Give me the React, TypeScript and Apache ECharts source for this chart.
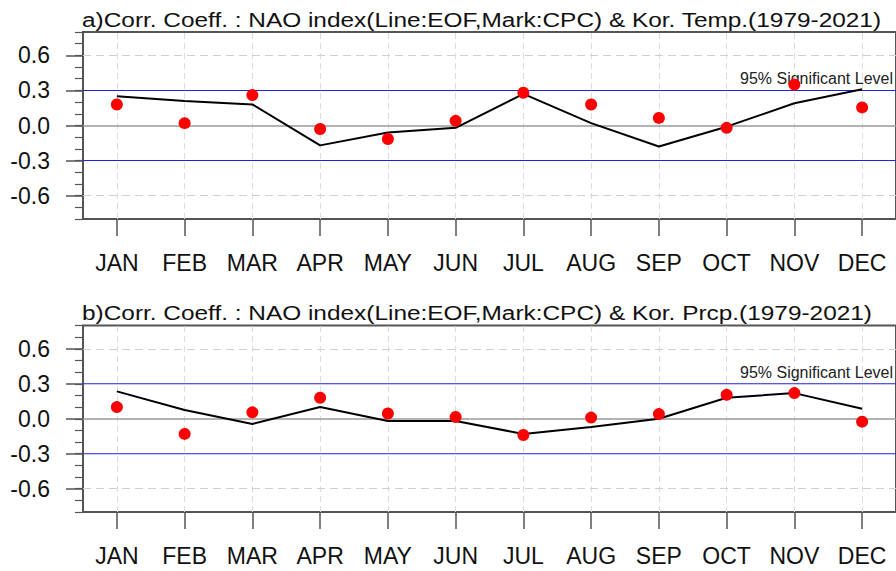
import React, { useEffect, useRef } from "react";
import * as echarts from "echarts";

const months = ["JAN", "FEB", "MAR", "APR", "MAY", "JUN", "JUL", "AUG", "SEP", "OCT", "NOV", "DEC"];
const tempEOF = [0.25, 0.21, 0.18, -0.17, -0.06, -0.02, 0.27, 0.02, -0.18, -0.01, 0.19, 0.31];
const tempCPC = [0.18, 0.02, 0.26, -0.03, -0.115, 0.04, 0.28, 0.18, 0.065, -0.02, 0.35, 0.155];
const prcpEOF = [0.235, 0.075, -0.045, 0.1, -0.02, -0.02, -0.13, -0.07, 0.0, 0.18, 0.22, 0.085];
const prcpCPC = [0.1, -0.13, 0.055, 0.18, 0.045, 0.015, -0.14, 0.01, 0.04, 0.205, 0.22, -0.025];
const yLabelValues = [-0.6, -0.3, 0, 0.3, 0.6];
const yMinorValues = [-0.8, -0.7, -0.6, -0.5, -0.4, -0.3, -0.2, -0.1, 0, 0.1, 0.2, 0.3, 0.4, 0.5, 0.6, 0.7, 0.8];
const yMin = -0.8;
const yMax = 0.8;
const sigLevels = [0.3, -0.3];
const dashedLevels = [0.6, -0.6];
const titles = [
  "a)Corr. Coeff. : NAO index(Line:EOF,Mark:CPC) & Kor. Temp.(1979-2021)",
  "b)Corr. Coeff. : NAO index(Line:EOF,Mark:CPC) & Kor. Prcp.(1979-2021)",
];
const sigLabel = "95% Significant Level";

const FONT = "'Liberation Sans', Arial, Helvetica, sans-serif";
const TITLE_FONT = `20px ${FONT}`;
const TITLE_WIDTH = 800;
const GRID_LEFT = 83;
const GRID_WIDTH = 823;
const panels = [
  { eof: tempEOF, cpc: tempCPC, top: 32, height: 187, titleY: 20, sigY: 78.6 },
  { eof: prcpEOF, cpc: prcpCPC, top: 325.5, height: 186.5, titleY: 313.5, sigY: 372.6 },
];

function refLines(i: number, data: any[], lineStyle: any, z: number) {
  return {
    type: "line",
    xAxisIndex: i,
    yAxisIndex: i * 2,
    data: [],
    silent: true,
    z,
    markLine: {
      silent: true,
      symbol: "none",
      label: { show: false },
      z,
      lineStyle,
      data,
    },
  };
}

function measure(text: string, font: string) {
  try {
    const ns = "http://www.w3.org/2000/svg";
    const svg = document.createElementNS(ns, "svg");
    svg.setAttribute("width", "2000");
    svg.setAttribute("height", "100");
    svg.style.position = "absolute";
    svg.style.left = "-3000px";
    svg.style.top = "0";
    const t = document.createElementNS(ns, "text") as SVGTextElement;
    t.setAttribute("x", "0");
    t.setAttribute("y", "50");
    t.style.font = font;
    t.textContent = text;
    svg.appendChild(t);
    document.body.appendChild(svg);
    const len = t.getComputedTextLength();
    document.body.removeChild(svg);
    if (len > 0) return len;
  } catch (e) {
    /* ignore */
  }
  const c = document.createElement("canvas");
  const ctx = c.getContext("2d");
  if (!ctx) return 0;
  ctx.font = font;
  return ctx.measureText(text).width;
}

export default function App() {
  const ref = useRef<HTMLDivElement>(null);
  useEffect(() => {
    if (!ref.current) return;
    const chart = echarts.init(ref.current, undefined, { renderer: "svg" });
    const w = measure(titles[0], TITLE_FONT);
    const titleScale = w > 0 ? TITLE_WIDTH / w : 1.23;
    const grid: any[] = [];
    const xAxis: any[] = [];
    const yAxis: any[] = [];
    const series: any[] = [];
    panels.forEach((p, i) => {
      grid.push({
        left: GRID_LEFT,
        top: p.top,
        width: GRID_WIDTH,
        height: p.height,
        show: true,
        borderColor: "#555",
        borderWidth: 2,
        backgroundColor: "transparent",
      });
      xAxis.push({
        gridIndex: i,
        type: "category",
        data: months,
        boundaryGap: true,
        position: "bottom",
        axisLine: { show: false, onZero: false },
        axisTick: { show: true, alignWithLabel: true, length: 17, lineStyle: { color: "#555", width: 1.5 } },
        axisLabel: { interval: 0, fontSize: 23, fontFamily: FONT, color: "#111", margin: 32 },
        splitLine: { show: false },
      });
      yAxis.push({
        gridIndex: i,
        type: "value",
        position: "left",
        min: yMin,
        max: yMax,
        interval: 0.1,
        axisLine: { show: false, onZero: false },
        axisTick: { show: true, customValues: yLabelValues, length: 17, lineStyle: { color: "#555", width: 1.5 } },
        axisLabel: {
          customValues: yLabelValues,
          fontSize: 23,
          fontFamily: FONT,
          color: "#111",
          margin: 33,
          formatter: (v: number) => {
            const k = Math.round(v * 10);
            return k % 3 === 0 ? (k / 10).toFixed(1) : "";
          },
        },
        splitLine: { show: false },
      });
      yAxis.push({
        gridIndex: i,
        type: "value",
        position: "left",
        min: yMin,
        max: yMax,
        interval: 0.1,
        axisLine: { show: false, onZero: false },
        axisLabel: { show: false },
        axisTick: { show: true, customValues: yMinorValues, length: 8, lineStyle: { color: "#555", width: 1.2 } },
        splitLine: { show: false },
      });
      series.push(
        refLines(
          i,
          months.map((m) => [{ coord: [m, yMin] }, { coord: [m, yMax] }]),
          { color: "#dcdcdc", width: 1, type: [6, 4] },
          1
        )
      );
      series.push(
        refLines(i, dashedLevels.map((v) => ({ yAxis: v })), { color: "#d0d0d0", width: 1.2, type: [8, 5] }, 2)
      );
      series.push(refLines(i, [{ yAxis: 0 }], { color: "#9a9a9a", width: 1.6, type: "solid" }, 3));
      series.push({
        type: "line",
        name: "EOF",
        xAxisIndex: i,
        yAxisIndex: i * 2,
        data: p.eof,
        symbol: "none",
        z: 10,
        lineStyle: { color: "#000", width: 2 },
      });
      series.push({
        type: "scatter",
        name: "CPC",
        xAxisIndex: i,
        yAxisIndex: i * 2,
        data: p.cpc,
        symbol: "circle",
        symbolSize: 12,
        z: 11,
        itemStyle: { color: "#ff0000", opacity: 1 },
      });
    });
    chart.setOption({
      animation: false,
      backgroundColor: "#ffffff",
      grid,
      xAxis,
      yAxis,
      series,
    });

    const graphic: any[] = [];
    panels.forEach((p, i) => {
      sigLevels.forEach((v, k) => {
        const py = chart.convertToPixel({ yAxisIndex: i * 2 }, v) as number;
        graphic.push({
          type: "line",
          id: `sig-${i}-${k}`,
          z: 4,
          silent: true,
          shape: { x1: GRID_LEFT, y1: py, x2: GRID_LEFT + GRID_WIDTH, y2: py },
          style: { stroke: "#2020e0", lineWidth: 1.1 },
        });
      });
      graphic.push({
        type: "text",
        id: `title-${i}`,
        x: 82,
        y: p.titleY,
        scaleX: titleScale,
        z: 2,
        style: {
          text: titles[i],
          font: TITLE_FONT,
          fill: "#111",
          verticalAlign: "middle",
          align: "left",
        },
      });
      graphic.push({
        type: "text",
        id: `sig-label-${i}`,
        x: 740,
        y: p.sigY,
        z: 2,
        style: {
          text: sigLabel,
          font: `16px ${FONT}`,
          fill: "#222",
          verticalAlign: "middle",
          align: "left",
        },
      });
    });
    chart.setOption({ graphic });
    return () => chart.dispose();
  }, []);
  return (
    <div
      ref={ref}
      style={{ position: "fixed", left: 0, top: 0, width: 896, height: 571 }}
    />
  );
}
